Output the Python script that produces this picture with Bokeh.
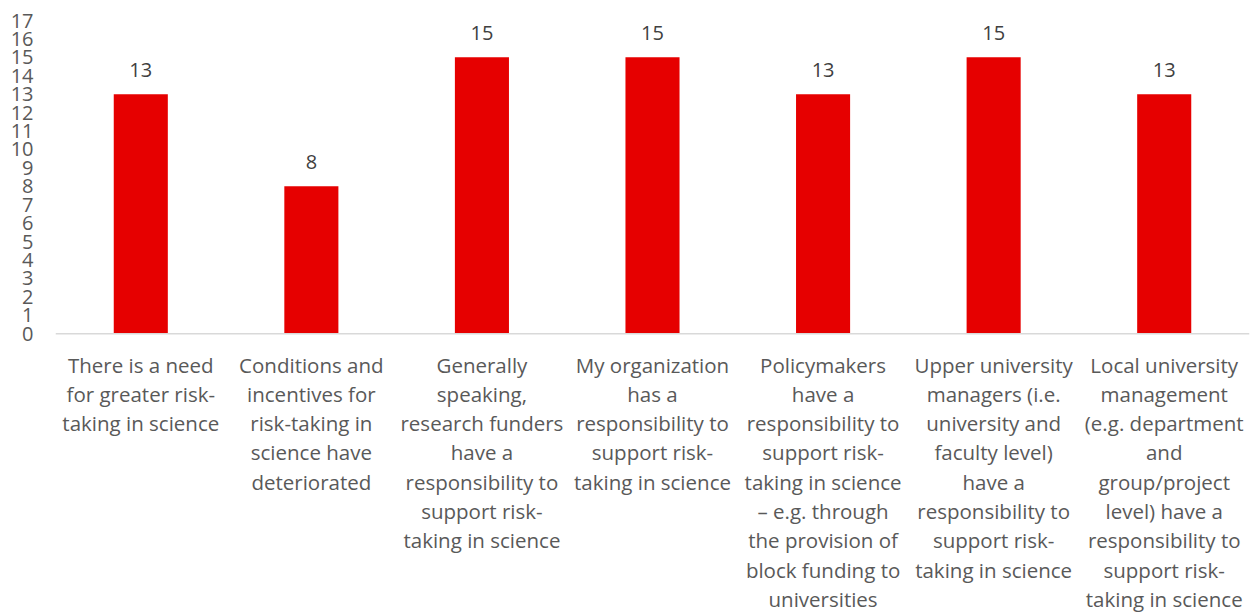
from bokeh.plotting import figure
from bokeh.models import ColumnDataSource, FixedTicker, Range1d, Span
from bokeh.core.properties import value
from bokeh.embed import file_html
from bokeh.resources import INLINE

categories = [
    "There is a need\nfor greater risk-\ntaking in science",
    "Conditions and\nincentives for\nrisk-taking in\nscience have\ndeteriorated",
    "Generally\nspeaking,\nresearch funders\nhave a\nresponsibility to\nsupport risk-\ntaking in science",
    "My organization\nhas a\nresponsibility to\nsupport risk-\ntaking in science",
    "Policymakers\nhave a\nresponsibility to\nsupport risk-\ntaking in science\n\u2013 e.g. through\nthe provision of\nblock funding to\nuniversities",
    "Upper university\nmanagers (i.e.\nuniversity and\nfaculty level)\nhave a\nresponsibility to\nsupport risk-\ntaking in science",
    "Local university\nmanagement\n(e.g. department\nand\ngroup/project\nlevel) have a\nresponsibility to\nsupport risk-\ntaking in science",
]
values = [13, 8, 15, 15, 13, 15, 13]
y_ticks = list(range(0, 18))

FONT = "Open Sans"

source = ColumnDataSource(data=dict(cat=categories, val=values,
                                    lbl=[str(v) for v in values],
                                    zero=[0] * len(values)))

p = figure(x_range=categories, y_range=Range1d(-15.13, 17), width=1256, height=612,
           output_backend="svg", toolbar_location=None,
           min_border_left=55, min_border_right=7, min_border_top=20, min_border_bottom=0)

p.vbar(x="cat", top="val", width=0.317, source=source, color="#E60000", line_color=None)

p.add_layout(Span(location=0, dimension="width", line_color="#D9D9D9", line_width=1.5))

p.text(x="cat", y="val", text="lbl", source=source, y_offset=-17,
       text_align="center", text_baseline="bottom",
       text_font=value(FONT), text_font_size="20px", text_color="#404040")

p.text(x="cat", y="zero", text="cat", source=source, y_offset=17,
       text_align="center", text_baseline="top",
       text_font=value(FONT), text_font_size="20.5px", text_color="#595959",
       text_line_height=1.045)

p.outline_line_color = None
p.grid.grid_line_color = None
p.background_fill_color = "white"
p.border_fill_color = "white"

p.yaxis.ticker = FixedTicker(ticks=y_ticks)
p.yaxis.axis_line_color = None
p.yaxis.major_tick_line_color = None
p.yaxis.minor_tick_line_color = None
p.yaxis.major_tick_out = 0
p.yaxis.major_label_standoff = 22
p.yaxis.major_label_text_font = FONT
p.yaxis.major_label_text_font_size = "20px"
p.yaxis.major_label_text_color = "#595959"

p.xaxis.visible = False
p.x_range.range_padding = 0

open("out.html", "w").write(file_html(p, INLINE))
